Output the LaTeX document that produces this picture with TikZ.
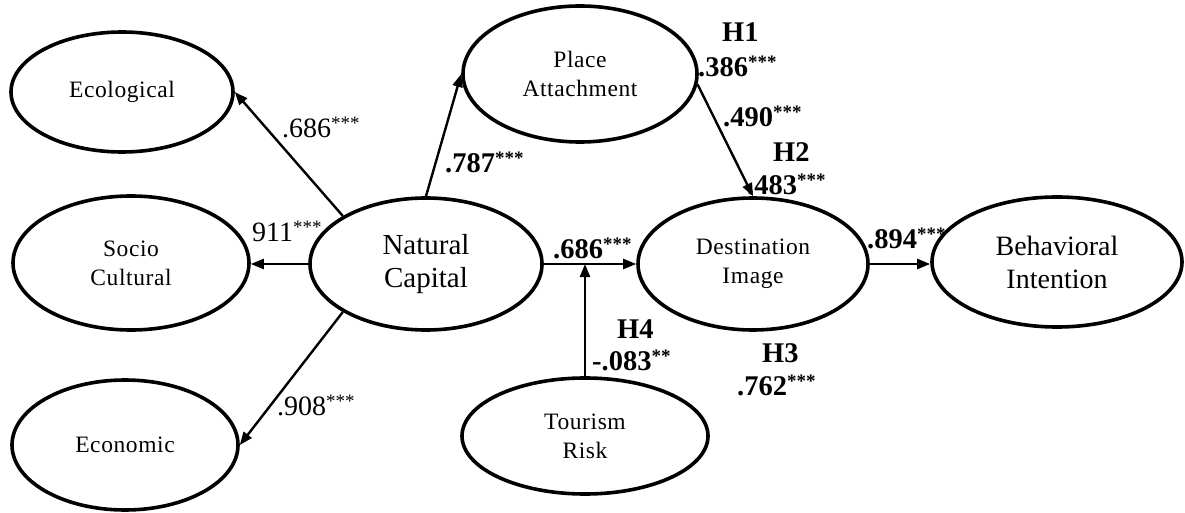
\documentclass[tikz,border=0pt]{standalone}
\usepackage{fontspec}
\setmainfont{Liberation Serif}
\newfontfamily\spacedserif{Liberation Serif}[LetterSpace=2.5]
\usetikzlibrary{shapes.geometric,arrows.meta}
% significance stars set as raised superscripts
\newcommand\sig[1]{\raisebox{8pt}{\fontsize{19}{19}\selectfont #1}}
\begin{document}
\begin{tikzpicture}[x=1pt,y=1pt,
  ell/.style={ellipse, draw, line width=3.6pt, inner sep=0pt, align=center},
  smalltxt/.style={font=\spacedserif\fontsize{23.5}{29}\selectfont},
  bigtxt/.style={font=\fontsize{29}{33}\selectfont},
  arr/.style={-{Triangle[length=13pt,width=10pt]}, line width=2.4pt},
  lab/.style={inner sep=0pt, anchor=base west, font=\fontsize{28}{30}\selectfont},
  blab/.style={lab, font=\fontsize{28.5}{30}\bfseries\selectfont}]
\useasboundingbox (0,0) rectangle (1185,512);

% constructs
\node[ell, smalltxt, minimum width=222pt, minimum height=120pt] (eco) at (122,420) {Ecological};
\node[ell, smalltxt, minimum width=236pt, minimum height=134pt] (soc) at (131,249) {Socio\\Cultural};
\node[ell, smalltxt, minimum width=226pt, minimum height=130pt] (econ) at (125,67) {Economic};
\node[ell, bigtxt, minimum width=232pt, minimum height=132pt] (nc) at (426,248) {Natural\\Capital};
\node[ell, smalltxt, minimum width=234pt, minimum height=136pt] (pa) at (580,438) {Place\\Attachment};
\node[ell, smalltxt, minimum width=230pt, minimum height=132pt] (di) at (753,248) {Destination\\Image};
\node[ell, bigtxt, font=\fontsize{28}{33}\selectfont, minimum width=250pt, minimum height=130pt] (bi) at (1057,250) {Behavioral\\Intention};
\node[ell, smalltxt, minimum width=246pt, minimum height=116pt] (tr) at (585,76) {Tourism\\Risk};

% paths
\draw[arr] (nc.150) -- (eco.east);
\draw[arr] (nc.west) -- (nc.west -| soc.east);
\draw[arr] (nc.210) -- (econ.east);
\draw[arr] (nc.north) -- (pa.west);
\draw[arr] (pa.-5) -- (di.north);
\draw[arr] (nc.east) -- (di.west);
\draw[arr] (tr.north) -- (tr.north |- nc.east);
\draw[arr] (di.east) -- (di.east -| bi.west);

% coefficients
\node[lab] (l1) at (282,374) {.686\sig{***}};
\node[lab] (l2) at (252,270) {911\sig{***}};
\node[lab] (l3) at (277,97) {.908\sig{***}};
\node[blab] (l4) at (445,339) {.787\sig{***}};
\node[blab] (h1) at (722,470) {H1};
\node[blab] (l5) at (698,435) {.386\sig{***}};
\node[blab] (l6) at (723,385) {.490\sig{***}};
\node[blab] (h2) at (773,350) {H2};
\node[blab] (l7) at (747,317) {.483\sig{***}};
\node[blab] (l8) at (553,254) {.686\sig{***}};
\node[blab] (h4) at (617,174) {H4};
\node[blab] (l9) at (592,142) {-.083\sig{**}};
\node[blab] (h3) at (762,150) {H3};
\node[blab] (l10) at (737,117) {.762\sig{***}};
\node[blab] (l11) at (867,264) {.894\sig{***}};
\end{tikzpicture}
\end{document}
